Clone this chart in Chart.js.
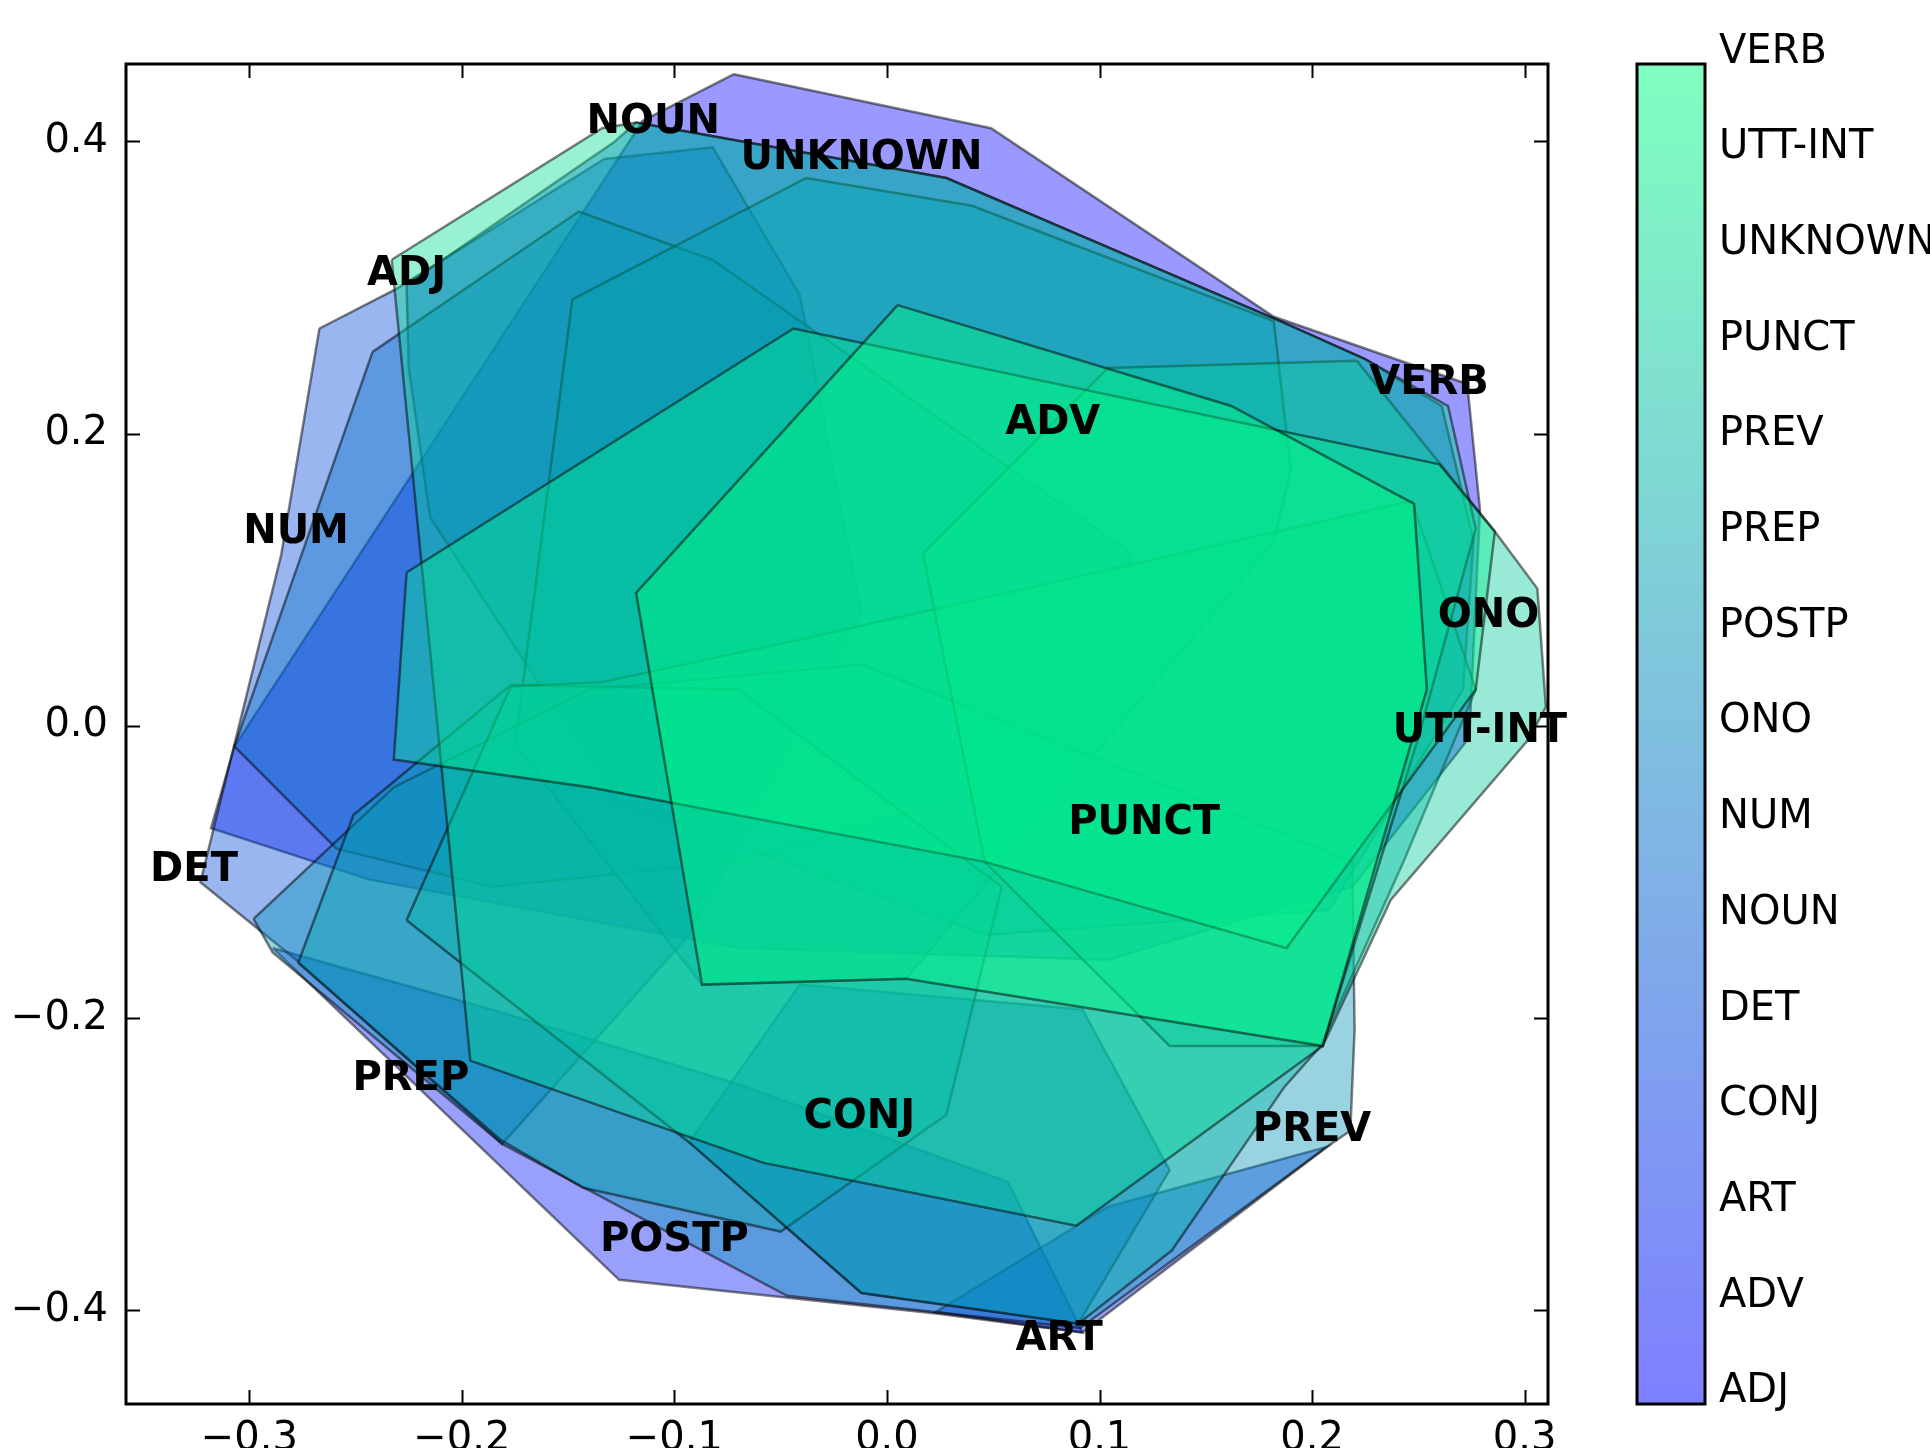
<!DOCTYPE html>
<html><head><meta charset="utf-8">
<script src="https://cdn.jsdelivr.net/npm/chart.js@4.4.1/dist/chart.umd.min.js"></script>
<style>html,body{margin:0;padding:0;background:#fff}canvas{display:block}</style>
</head><body>
<canvas id="c" width="1930" height="1448" style="width:1930px;height:1448px"></canvas>
<script>
// ---- data ----
const categories = ['ADJ','ADV','ART','CONJ','DET','NOUN','NUM','ONO','POSTP','PREP','PREV','PUNCT','UNKNOWN','UTT-INT','VERB'];

const hullADJ = [[-0.072,0.446],[0.049,0.409],[0.182,0.280],[0.273,0.234],[0.279,0.148],[0.274,-0.008],[0.219,-0.110],[0.104,-0.160],[-0.070,-0.152],[-0.244,-0.105],[-0.318,-0.070],[-0.307,-0.014],[-0.115,0.414]];
const hullADV = [[-0.289,-0.152],[-0.126,-0.379],[0.023,-0.402],[0.092,-0.415],[0.057,-0.312],[-0.070,-0.245],[-0.186,-0.194]];
const hullART = [[0.092,-0.415],[0.023,-0.401],[0.104,-0.329],[0.207,-0.288]];
const hullCONJ = [[-0.093,-0.285],[-0.012,-0.388],[0.090,-0.409],[0.133,-0.304],[0.092,-0.194],[-0.041,-0.177]];
const hullDET = [[-0.267,0.272],[-0.231,0.299],[-0.133,0.388],[-0.082,0.396],[-0.041,0.295],[-0.012,0.076],[-0.093,-0.143],[-0.181,-0.286],[-0.278,-0.160],[-0.323,-0.107],[-0.285,0.117]];
const hullNOUN = [[-0.118,0.413],[0.028,0.375],[0.185,0.277],[0.225,0.251],[0.261,0.219],[0.276,0.127],[0.271,0.025],[0.208,-0.126],[0.046,-0.143],[-0.128,-0.051],[-0.215,0.143],[-0.225,0.245],[-0.226,0.302],[-0.128,0.400]];
const hullNUM = [[-0.242,0.256],[-0.145,0.352],[-0.082,0.319],[0.115,0.118],[0.092,-0.025],[-0.070,-0.093],[-0.186,-0.110],[-0.259,-0.084],[-0.307,-0.014]];
const hullONO = [[-0.148,0.292],[-0.038,0.375],[0.040,0.356],[0.182,0.277],[0.190,0.175],[0.182,0.126],[0.104,-0.008],[0.009,-0.173],[-0.087,-0.177],[-0.175,-0.013]];
const hullPOSTP = [[-0.298,-0.132],[-0.232,-0.042],[-0.140,0.025],[-0.012,0.042],[0.133,-0.042],[0.219,-0.093],[0.220,-0.208],[0.218,-0.277],[0.207,-0.288],[0.091,-0.412],[-0.047,-0.390],[-0.181,-0.286],[-0.289,-0.155]];
const hullPREP = [[-0.277,-0.162],[-0.251,-0.061],[-0.177,0.028],[-0.070,0.025],[0.054,-0.110],[0.028,-0.266],[-0.050,-0.346],[-0.143,-0.316],[-0.182,-0.283]];
const hullPREV = [[-0.226,-0.133],[-0.177,0.027],[-0.134,0.030],[-0.041,0.059],[0.247,0.154],[0.277,0.025],[0.243,-0.093],[0.204,-0.219],[0.187,-0.247],[0.134,-0.359],[0.090,-0.409],[-0.012,-0.388],[-0.093,-0.285]];
const hullPUNCT = [[0.221,0.250],[0.286,0.133],[0.306,0.094],[0.310,0.013],[0.302,-0.009],[0.237,-0.119],[0.205,-0.219],[0.133,-0.219],[0.046,-0.093],[0.017,0.118],[0.104,0.245]];
const hullUNKNOWN = [[-0.233,0.319],[-0.134,0.409],[-0.118,0.413],[0.028,0.375],[0.185,0.277],[0.225,0.251],[0.264,0.219],[0.277,0.135],[0.250,-0.008],[0.205,-0.219],[0.089,-0.342],[-0.058,-0.299],[-0.196,-0.229]];
const hullUTTINT = [[-0.226,0.105],[-0.044,0.272],[0.260,0.179],[0.286,0.133],[0.277,0.025],[0.188,-0.152],[0.046,-0.093],[-0.140,-0.042],[-0.232,-0.023]];
const hullVERB = [[0.005,0.288],[0.162,0.219],[0.248,0.152],[0.254,0.025],[0.205,-0.219],[0.009,-0.173],[-0.087,-0.177],[-0.118,0.091]];

const hulls = [hullADJ,hullADV,hullART,hullCONJ,hullDET,hullNOUN,hullNUM,hullONO,hullPOSTP,hullPREP,hullPREV,hullPUNCT,hullUNKNOWN,hullUTTINT,hullVERB];

// label anchor for each category (same order as categories)
const labelX = [-0.226, 0.078, 0.081, -0.013, -0.326, -0.110, -0.278, 0.283, -0.100, -0.224, 0.200, 0.121, -0.012, 0.279, 0.255];
const labelY = [0.309, 0.207, -0.420, -0.268, -0.099, 0.413, 0.132, 0.075, -0.352, -0.242, -0.277, -0.067, 0.388, -0.004, 0.234];

const xTicks = [-0.3,-0.2,-0.1,0.0,0.1,0.2,0.3];
const yTicks = [-0.4,-0.2,0.0,0.2,0.4];

// ---- helpers ----
function winter(t, a){ return `rgba(0,${Math.round(255*t)},${Math.round(255*(1-0.5*t))},${a})`; }
function fmt(v){ const s = (Math.abs(v)<1e-9?0:v).toFixed(1); return s.replace('-', '\u2212'); }
const N = categories.length;

const datasets = hulls.map((h,i)=>({
  label: categories[i],
  data: h.concat([h[0]]).map(p=>({x:p[0],y:p[1]})),
  showLine: true,
  fill: 'shape',
  tension: 0,
  pointRadius: 0,
  pointHoverRadius: 0,
  borderWidth: 2.5,
  borderColor: 'rgba(0,0,0,0.5)',
  backgroundColor: winter(i/(N-1), 0.4),
  order: N - i
}));

const FONT = "'DejaVu Sans', sans-serif";

const labelsPlugin = {
  id: 'labels',
  afterDatasetsDraw(chart){
    const {ctx, scales:{x,y}} = chart;
    ctx.save();
    ctx.font = `bold 40px ${FONT}`;
    ctx.fillStyle = '#000';
    ctx.textAlign = 'center';
    ctx.textBaseline = 'middle';
    categories.forEach((c,i)=>{
      ctx.fillText(c, x.getPixelForValue(labelX[i]), y.getPixelForValue(labelY[i]));
    });
    ctx.restore();
  }
};

const framePlugin = {
  id: 'frame',
  afterDraw(chart){
    const {ctx, chartArea:a, scales:{x,y}} = chart;
    ctx.save();
    ctx.strokeStyle = '#000';
    ctx.lineWidth = 2;
    const L = 14;
    xTicks.forEach(v=>{
      const px = Math.round(x.getPixelForValue(v))+0.5;
      ctx.beginPath(); ctx.moveTo(px,a.bottom); ctx.lineTo(px,a.bottom-L); ctx.stroke();
      ctx.beginPath(); ctx.moveTo(px,a.top); ctx.lineTo(px,a.top+L); ctx.stroke();
    });
    yTicks.forEach(v=>{
      const py = Math.round(y.getPixelForValue(v))+0.5;
      ctx.beginPath(); ctx.moveTo(a.left,py); ctx.lineTo(a.left+L,py); ctx.stroke();
      ctx.beginPath(); ctx.moveTo(a.right,py); ctx.lineTo(a.right-L,py); ctx.stroke();
    });
    ctx.lineWidth = 3;
    ctx.strokeRect(a.left, a.top, a.right-a.left, a.bottom-a.top);

    // colorbar
    const cx0 = 1637, cx1 = 1705, cy0 = a.top, cy1 = a.bottom;
    const g = ctx.createLinearGradient(0, cy1, 0, cy0);
    g.addColorStop(0, winter(0, 0.5));
    g.addColorStop(1, winter(1, 0.5));
    ctx.fillStyle = g;
    ctx.fillRect(cx0, cy0, cx1-cx0, cy1-cy0);
    ctx.lineWidth = 3;
    ctx.strokeStyle = '#000';
    ctx.strokeRect(cx0, cy0, cx1-cx0, cy1-cy0);
    ctx.font = `40px ${FONT}`;
    ctx.fillStyle = '#000';
    ctx.textAlign = 'left';
    ctx.textBaseline = 'middle';
    categories.forEach((c,i)=>{
      ctx.fillText(c, 1719, cy1 - 12 - i*95.7);
    });
    ctx.restore();
  }
};

new Chart(document.getElementById('c'), {
  type: 'scatter',
  data: { datasets },
  options: {
    responsive: false,
    animation: false,
    devicePixelRatio: 1,
    layout: { padding: { left: 0, right: 382, top: 64, bottom: 0 } },
    plugins: { legend: { display: false }, tooltip: { enabled: false } },
    scales: {
      x: {
        type: 'linear', min: -0.358, max: 0.311,
        grid: { display: false, drawTicks: false },
        border: { display: false },
        afterBuildTicks: s => { s.ticks = xTicks.map(v=>({value:v})); },
        afterFit: s => { s.height = 44; },
        ticks: { color: '#000', font: { family: FONT, size: 40 }, padding: 12, maxRotation: 0, autoSkip: false, callback: v => fmt(v) }
      },
      y: {
        type: 'linear', min: -0.464, max: 0.453,
        grid: { display: false, drawTicks: false },
        border: { display: false },
        afterBuildTicks: s => { s.ticks = yTicks.map(v=>({value:v})); },
        afterFit: s => { s.width = 126; },
        ticks: { color: '#000', font: { family: FONT, size: 40 }, padding: 18, autoSkip: false, callback: v => fmt(v) }
      }
    }
  },
  plugins: [labelsPlugin, framePlugin]
});
</script>
</body></html>
